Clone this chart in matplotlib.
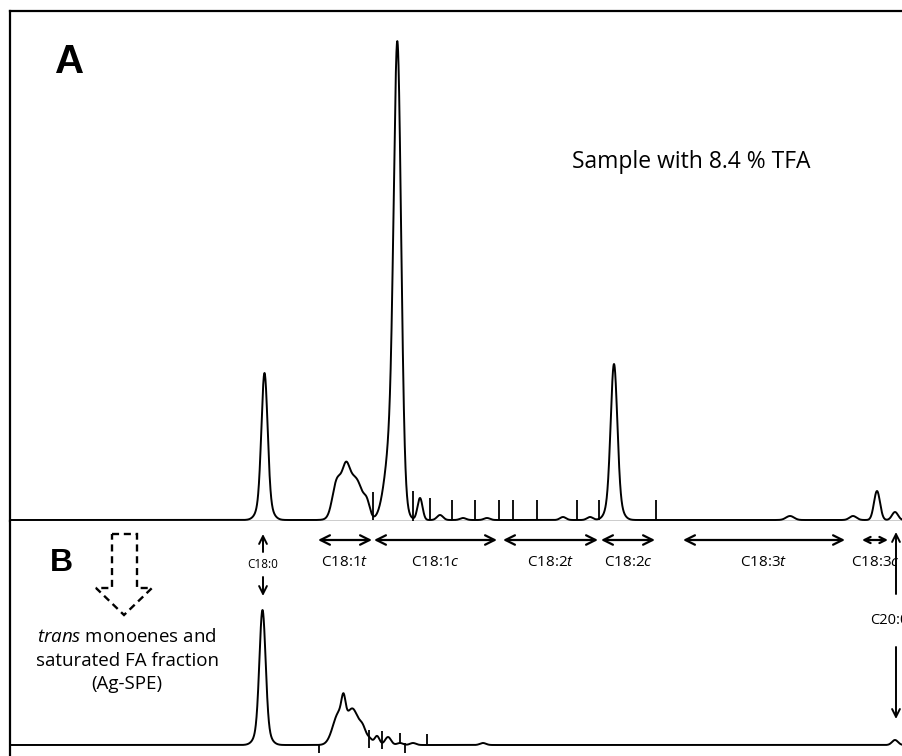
import numpy as np
import matplotlib

matplotlib.use("Agg")
import matplotlib.pyplot as plt
from matplotlib.patches import Polygon

plt.rcParams["font.family"] = ["Open Sans", "DejaVu Sans"]
plt.rcParams["mathtext.fontset"] = "custom"
plt.rcParams["mathtext.rm"] = "Open Sans"
plt.rcParams["mathtext.it"] = "Open Sans:italic"

# ===== 色谱数据（保留时间按图中横向位置读取，信号为相对强度）=====
# 每个峰用 (保留位置, 峰高, 峰宽) 描述
peaks_a_pos = [264.5, 264.5,
               347, 336, 346, 359, 367,
               397.5, 393, 420, 440, 463, 487,
               563, 590, 614, 614, 790, 853, 877, 895]
peaks_a_height = [125, 22,
                  45, 22, 12, 22, 14,
                  405, 90, 22, 5, 2, 2,
                  3, 3, 130, 26, 4, 4, 29, 8]
peaks_a_width = [3.0, 6.0,
                 8.0, 4.0, 3.0, 5.0, 3.0,
                 3.6, 7.0, 2.5, 3.0, 3.0, 3.0,
                 3.0, 3.0, 3.2, 6.0, 4.0, 3.5, 3.0, 3.0]

peaks_b_pos = [262.5, 262.5, 339, 343.5, 353, 363, 370, 377, 388, 400, 413, 483, 895]
peaks_b_height = [115, 20, 32, 20, 34, 14, 5, 9, 8, 2, 2, 2, 5]
peaks_b_width = [3.0, 6.0, 6.0, 2.0, 5.5, 3.5, 2.5, 2.5, 3.0, 3.0, 3.0, 3.0, 3.0]

# 积分标记竖线：位置、下端、上端
marks_a_pos = [373, 413, 430, 452, 475, 499, 513, 537, 577, 599, 656]
marks_a_low = [0, -6, 0, 0, 0, 0, 0, 0, 0, 0, 0]
marks_a_high = [28, 29, 22, 20, 20, 20, 20, 20, 20, 20, 20]

marks_b_pos = [319, 369, 382, 400, 405, 427]
marks_b_low = [-8, -3, -4, 2, -8, 1]
marks_b_high = [0, 15, 14, 12, 2, 11]

# 脂肪酸区间
band_labels = [r"C18:1$\mathit{t}$", r"C18:1$\mathit{c}$", r"C18:2$\mathit{t}$",
               r"C18:2$\mathit{c}$", r"C18:3$\mathit{t}$", r"C18:3$\mathit{c}$"]
band_start = [318, 374, 503, 601, 683, 862]
band_end = [372, 497, 598, 655, 845, 888]

C18_0_POS = 263
C20_0_POS = 896


def trace(x, pos, height, width):
    """把各个峰叠加成色谱曲线。"""
    y = np.zeros_like(x)
    for p, h, w in zip(pos, height, width):
        y += h * np.exp(-0.5 * ((x - p) / w) ** 2)
    return y


W, H = 902, 756
fig = plt.figure(figsize=(W / 100, H / 100), dpi=100)
ax_a = fig.add_axes([10 / W, (H - 521) / H, 1 - 10 / W, 510 / H])
ax_b = fig.add_axes([10 / W, 0, 1 - 10 / W, (H - 521) / H])

x = np.linspace(10, 902, 6000)

ax_a.plot(x, trace(x, peaks_a_pos, peaks_a_height, peaks_a_width),
          color="black", lw=1.4, clip_on=False, zorder=3)
ax_a.set_xlim(10, 902)
ax_a.set_ylim(-1, 509)

ax_b.plot(x, trace(x, peaks_b_pos, peaks_b_height, peaks_b_width),
          color="black", lw=1.4, clip_on=False, zorder=3)
ax_b.set_xlim(10, 902)
ax_b.set_ylim(-11, 224)

ax_a.vlines(marks_a_pos, marks_a_low, marks_a_high, color="black", lw=1.3, clip_on=False)
ax_b.vlines(marks_b_pos, marks_b_low, marks_b_high, color="black", lw=1.3, clip_on=False)

for ax in (ax_a, ax_b):
    ax.set_xticks([])
    ax.set_yticks([])
    ax.spines["right"].set_visible(False)
    ax.spines["left"].set_linewidth(1.6)
ax_a.spines["top"].set_linewidth(1.6)
ax_a.spines["bottom"].set_linewidth(1.0)
ax_b.spines["top"].set_visible(False)
ax_b.spines["bottom"].set_visible(False)

# ===== 面板 A 文字 =====
ax_a.text(0.051, 0.90, "A", transform=ax_a.transAxes, fontsize=29,
          fontweight="bold", family=["Liberation Sans"], va="center", ha="left")
ax_a.text(691, 358, "Sample with 8.4 % TFA", fontsize=16.5, ha="center", va="center")

# ===== 区间双箭头 =====
for label, x0, x1 in zip(band_labels, band_start, band_end):
    # 区间很短时把箭头缩小，避免两端箭头重叠
    head = 17 if x1 - x0 > 40 else 11
    ax_b.annotate("", xy=(x0, 205), xytext=(x1, 205),
                  arrowprops=dict(arrowstyle="<->", lw=1.6, color="black",
                                  shrinkA=0, shrinkB=0, mutation_scale=head),
                  annotation_clip=False)
    ax_b.text((x0 + x1) / 2, 183, label, fontsize=11, ha="center", va="center")

# C18:0
single_kw = dict(arrowstyle="->", lw=1.4, color="black", shrinkA=0, shrinkB=0,
                 mutation_scale=14)
ax_b.annotate("", xy=(C18_0_POS, 211), xytext=(C18_0_POS, 193), arrowprops=single_kw)
ax_b.text(C18_0_POS, 181, "C18:0", fontsize=8.5, ha="center", va="center")
ax_b.annotate("", xy=(C18_0_POS, 149), xytext=(C18_0_POS, 168), arrowprops=single_kw)

# C20:0（参考图中此标签在右侧被截断）
ax_b.annotate("", xy=(C20_0_POS, 213), xytext=(C20_0_POS, 151), arrowprops=single_kw)
ax_b.text(870, 124, "C20:0", fontsize=10.5, ha="left", va="center", clip_on=False)
ax_b.annotate("", xy=(C20_0_POS, 26), xytext=(C20_0_POS, 98), arrowprops=single_kw)

# ===== 面板 B 文字与虚线箭头 =====
ax_b.text(0.045, 0.82, "B", transform=ax_b.transAxes, fontsize=23,
          fontweight="bold", family=["Liberation Sans"], va="center", ha="left")

hollow = [(112, 211), (137, 211), (137, 157), (152, 157), (124, 130),
          (96, 157), (112, 157)]
ax_b.add_patch(Polygon(hollow, closed=True, fill=False, ls=(0, (3, 2)),
                       lw=1.7, edgecolor="black"))

ax_b.text(127, 108, r"$\mathit{trans}$ monoenes and", fontsize=13.5, ha="center", va="center")
ax_b.text(127, 84, "saturated FA fraction", fontsize=13.5, ha="center", va="center")
ax_b.text(127, 61, "(Ag-SPE)", fontsize=13.5, ha="center", va="center")

fig.savefig("out.png", dpi=100)
